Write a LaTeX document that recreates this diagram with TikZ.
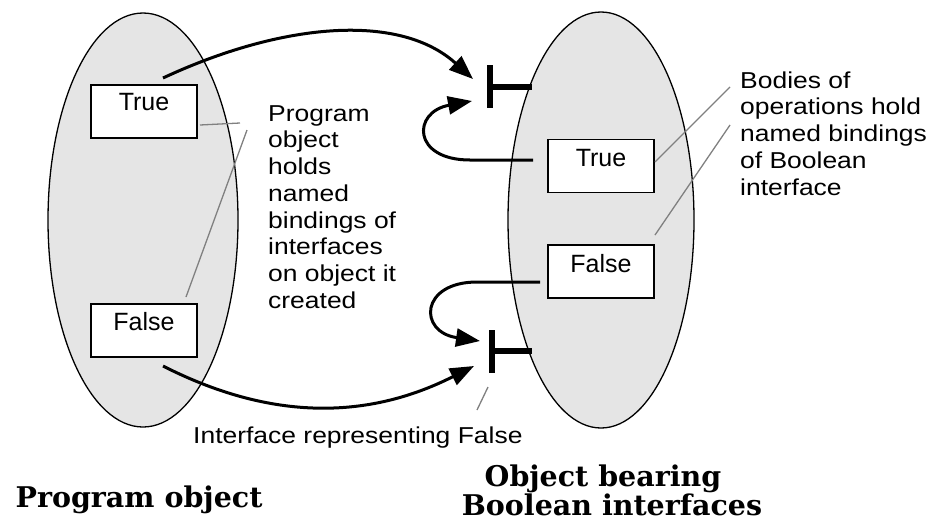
\documentclass[tikz,border=0pt]{standalone}
\usepackage{fontspec}
\setmainfont{Liberation Sans}
\newfontfamily\annotfont{Liberation Sans}[FakeStretch=1.15]
\newfontfamily\titlefont{DejaVu Serif}
\usetikzlibrary{arrows.meta,shapes.geometric}
\definecolor{ellfill}{RGB}{229,229,229}
\definecolor{pointer}{RGB}{128,128,128}
\begin{document}
\begin{tikzpicture}[x=1pt,y=-1pt,
  blob/.style={ellipse, draw=black, line width=1.3pt, fill=ellfill, inner sep=0pt, outer sep=0pt},
  slot/.style={rectangle, draw=black, line width=1.5pt, fill=white, minimum width=106pt, minimum height=53pt, inner sep=0pt},
  slotlabel/.style={font=\fontsize{25}{30}\selectfont, inner sep=0pt, anchor=base},
  note/.style={font=\annotfont\fontsize{23}{26.7}\selectfont, align=left, inner sep=0pt, anchor=north west},
  heading/.style={font=\titlefont\bfseries\fontsize{28.5}{30}\selectfont, inner sep=0pt, anchor=base},
  flow/.style={line width=3pt, -{Triangle[length=24pt,width=18pt]}},
  pointerline/.style={draw=pointer, line width=1.3pt},
  tbar/.style={line width=6.5pt}]
\useasboundingbox (0,0) rectangle (933,523);
% ellipses
\node[blob, minimum width=190pt, minimum height=414pt] (ellL) at (143,220) {};
\node[blob, minimum width=186pt, minimum height=416pt] (ellR) at (601,220) {};
% boxes
\node[slot] (tL) at (144,111.5) {};
\node[slotlabel] (tLt) at (144,110) {True};
\node[slot] (fL) at (144,330.5) {};
\node[slotlabel] (fLt) at (144,330) {False};
\node[slot] (tR) at (601,166) {};
\node[slotlabel] (tRt) at (601,166) {True};
\node[slot] (fR) at (601,271.5) {};
\node[slotlabel] (fRt) at (601,272) {False};
% interfaces (T bars)
\coordinate (ifTop) at (490,87);
\coordinate (ifTopEnd) at (532,87);
\coordinate (ifTopA) at (490,65);
\coordinate (ifTopB) at (490,108);
\coordinate (ifBot) at (492,351);
\coordinate (ifBotEnd) at (532,351);
\coordinate (ifBotA) at (492,330);
\coordinate (ifBotB) at (492,373);
\draw[tbar] (ifTopA) -- (ifTopB);
\draw[tbar] (ifTop) -- (ifTopEnd);
\draw[tbar] (ifBotA) -- (ifBotB);
\draw[tbar] (ifBot) -- (ifBotEnd);
% arrows
\coordinate (a1s) at (163,78);
\coordinate (a1e) at (473,79);
\coordinate (a2s) at (163,366);
\coordinate (a2e) at (474,366);
\coordinate (a3s) at (533,160);
\coordinate (a3m) at (470,160);
\coordinate (a3e) at (472,101);
\coordinate (a4s) at (540,282);
\coordinate (a4m) at (477,282);
\coordinate (a4e) at (480,341);
\draw[flow] (a1s) .. controls (281,23) and (399,12) .. (a1e);
\draw[flow] (a2s) .. controls (279,425) and (375,416) .. (a2e);
\draw[flow] (a3s) -- (a3m) .. controls (412,160) and (412,112) .. (a3e);
\draw[flow] (a4s) -- (a4m) .. controls (420,282) and (418,332) .. (a4e);
% pointer lines
\coordinate (p1a) at (200,125);
\coordinate (p1b) at (240,123);
\coordinate (p2a) at (247,130);
\coordinate (p2b) at (186,297);
\coordinate (p3a) at (655,162);
\coordinate (p3b) at (730,87);
\coordinate (p4a) at (655,235);
\coordinate (p4b) at (730,125);
\coordinate (p5a) at (488,387);
\coordinate (p5b) at (477,410);
\draw[pointerline] (p1a) -- (p1b);
\draw[pointerline] (p2a) -- (p2b);
\draw[pointerline] (p3a) -- (p3b);
\draw[pointerline] (p4a) -- (p4b);
\draw[pointerline] (p5a) -- (p5b);
% notes
\node[note] (noteL) at (268,101) {\rule{0pt}{20pt}Program\\object\\holds\\named\\bindings of\\interfaces\\on object it\\created};
\node[note] (noteR) at (740,68) {\rule{0pt}{20pt}Bodies of\\operations hold\\named bindings\\of Boolean\\interface};
\node[note, anchor=base west] (noteB) at (193,443) {Interface representing False};
% headings
\node[heading] (headL) at (139,507) {Program object};
\node[heading] (headR1) at (603,486) {Object bearing};
\node[heading] (headR2) at (612,515) {Boolean interfaces};
\end{tikzpicture}
\end{document}
